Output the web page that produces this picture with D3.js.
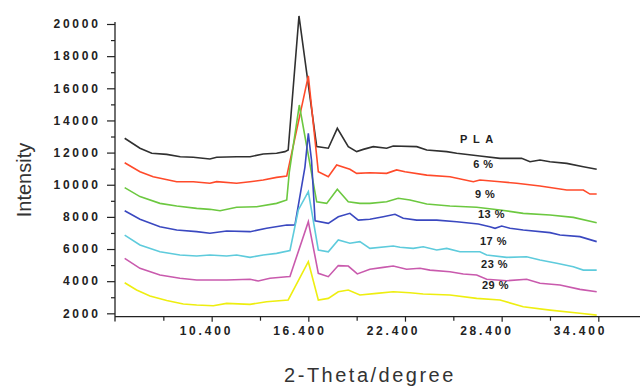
<!DOCTYPE html>
<html><head><meta charset="utf-8">
<script src="https://cdn.jsdelivr.net/npm/d3@7/dist/d3.min.js"></script>
<style>html,body{margin:0;padding:0;background:#fff;}svg{display:block;}</style>
</head><body>
<svg id="chart" width="640" height="386"></svg>
<script>
// ---- data (2-theta in degrees, intensity in counts) ----
const seriesNames = ["PLA", "6%", "9%", "13%", "17%", "23%", "29%"];
const seriesColors = ["#303030", "#ff4a2a", "#6cc840", "#3a48c0", "#5ecbdc", "#c95aad", "#eeee10"];

const pla = [[5.0,12890],[5.95,12270],[6.68,11960],[7.61,11890],[8.45,11740],[9.26,11710],[10.29,11600],[10.71,11710],[11.95,11740],[12.78,11740],[13.6,11910],[14.43,11960],[14.95,12060],[15.15,12160],[15.82,20500],[16.92,12370],[17.64,12270],[18.2,13510],[18.88,12370],[19.4,12060],[19.81,12200],[20.43,12370],[21.26,12270],[21.67,12410],[23.13,12370],[23.75,12160],[24.99,12060],[25.61,11960],[27.05,11790],[28.3,11640],[29.64,11640],[30.16,11430],[30.78,11540],[31.4,11430],[32.44,11330],[33.47,11120],[34.3,10960]];
const pct6 = [[5.0,11370],[5.95,10810],[6.77,10500],[8.23,10190],[9.26,10190],[10.29,10090],[10.71,10190],[11.95,10090],[12.78,10190],[13.6,10290],[14.43,10460],[15.06,10540],[16.4,16770],[17.02,10810],[17.64,10500],[18.16,11230],[18.98,10960],[19.4,10710],[20.22,10750],[21.26,10710],[21.88,10920],[22.4,10810],[23.75,10600],[25.19,10500],[26.64,10190],[27.05,10290],[28.3,10190],[29.33,10090],[30.78,9920],[32.44,9670],[33.47,9670],[33.88,9420],[34.3,9420]];
const pct9 = [[5.0,9820],[5.95,9260],[7.19,8840],[8.23,8680],[9.47,8530],[10.29,8470],[10.92,8380],[11.95,8600],[13.19,8630],[14.43,8840],[15.06,9050],[15.22,10790],[15.84,14960],[16.92,8940],[17.54,8840],[18.2,9720],[18.88,8940],[19.6,8840],[20.22,8840],[21.26,8940],[21.98,9160],[22.71,9050],[23.75,8800],[25.19,8680],[26.85,8600],[28.3,8430],[29.74,8220],[31.4,8120],[32.85,7970],[34.3,7640]];
const pct13 = [[5.0,8380],[5.95,7850],[7.19,7390],[8.23,7180],[9.47,7080],[10.29,6980],[11.33,7120],[12.78,7080],[13.81,7290],[15.06,7490],[15.57,7500],[16.19,11100],[16.4,13200],[16.6,11500],[16.82,7750],[17.64,7600],[18.26,8010],[18.98,8220],[19.5,7800],[20.22,7850],[21.05,8010],[21.78,8160],[22.29,7910],[23.13,7800],[24.37,7800],[25.61,7700],[26.95,7560],[27.67,7390],[27.99,7290],[28.4,7430],[28.92,7290],[29.74,7180],[31.4,7020],[32.02,6870],[33.26,6770],[34.3,6460]];
const pct17 = [[5.0,6870],[5.95,6250],[7.19,5830],[8.43,5630],[9.47,5570],[10.29,5630],[11.33,5570],[11.95,5630],[12.78,5480],[13.6,5630],[14.43,5730],[15.26,5910],[15.78,8430],[16.4,9570],[17.02,5940],[17.64,5830],[18.26,6560],[18.98,6360],[19.6,6460],[20.22,6040],[21.67,6190],[22.09,6110],[22.91,6040],[23.53,6140],[24.37,5940],[24.99,6040],[25.81,5830],[27.05,5830],[27.47,5630],[28.71,5480],[29.95,5520],[30.78,5320],[31.82,5110],[32.85,4900],[33.47,4690],[34.3,4690]];
const pct23 = [[5.0,5420],[5.95,4800],[7.19,4380],[8.43,4180],[9.47,4070],[11.33,4070],[12.78,4120],[13.29,4010],[14.02,4180],[15.06,4280],[15.26,4290],[16.4,7700],[17.02,4490],[17.64,4280],[18.26,4970],[18.88,4940],[19.44,4450],[20.22,4740],[21.05,4860],[21.67,4940],[22.5,4740],[23.33,4800],[23.95,4690],[25.19,4590],[26.02,4450],[26.85,4380],[27.47,4120],[28.71,4030],[29.95,4120],[30.78,3870],[32.02,3760],[33.26,3490],[34.3,3340]];
const pct29 = [[5.0,3900],[5.74,3450],[6.57,3080],[7.61,2800],[8.64,2580],[9.47,2520],[10.5,2470],[11.33,2620],[12.78,2560],[13.81,2720],[15.15,2830],[16.4,5210],[17.02,2830],[17.64,2930],[18.26,3340],[18.88,3450],[19.6,3140],[20.64,3240],[21.67,3340],[22.71,3280],[23.53,3200],[25.19,3140],[26.85,2930],[28.3,2830],[29.74,2410],[31.4,2200],[33.26,2000],[34.3,1890]];

const xMajorTicks = [10.4, 16.4, 22.4, 28.4, 34.4];
const xMinorTicks = [7.4, 13.4, 19.4, 25.4, 31.4];
const xTickLabels = ["10.400", "16.400", "22.400", "28.400", "34.400"];
const yMajorTicks = [2000, 4000, 6000, 8000, 10000, 12000, 14000, 16000, 18000, 20000];
const yMinorTicks = [3000, 5000, 7000, 9000, 11000, 13000, 15000, 17000, 19000];
const seriesLabels = ["P L A", "6 %", "9 %", "13 %", "17 %", "23 %", "29 %"];
// label anchor points (theta, intensity) where each curve label sits
const labelTheta = [25.81, 26.63, 26.74, 26.93, 27.05, 27.12, 27.18];
const labelIntensity = [12580, 11040, 9170, 7930, 6280, 4820, 3510];

// ---- drawing ----
const svg = d3.select("#chart");
const x = d3.scaleLinear().domain([4.4, 37.0]).range([115, 640.2]);
const y = d3.scaleLinear().domain([1790, 20000]).range([316.7, 24]);
// tick labels on the original are spaced slightly tighter than the ticks
const xLab = d3.scaleLinear().domain([10.4, 34.4]).range([205, 579]);

const allSeries = [pla, pct6, pct9, pct13, pct17, pct23, pct29];
const line = d3.line().x(d => x(d[0])).y(d => y(d[1]));

const g = svg.append("g");
allSeries.forEach((s, i) => {
  g.append("path").datum(s)
    .attr("d", line)
    .attr("fill", "none")
    .attr("stroke", seriesColors[i])
    .attr("stroke-width", 1.6)
    .attr("stroke-linejoin", "miter");
});

// axes
const axisColor = "#222";
const yAxis = svg.append("g").attr("transform", "translate(115,0)");
yAxis.call(d3.axisLeft(y).tickValues(yMajorTicks).tickSize(8).tickFormat(""))
  .call(a => a.select(".domain").remove());
yAxis.selectAll("line").attr("stroke", axisColor).attr("stroke-width", 1.2);
const yMinor = svg.append("g").attr("transform", "translate(115,0)");
yMinor.call(d3.axisLeft(y).tickValues(yMinorTicks).tickSize(4).tickFormat(""))
  .call(a => a.select(".domain").remove());
yMinor.selectAll("line").attr("stroke", axisColor).attr("stroke-width", 1.2);

svg.append("line").attr("x1", 115).attr("x2", 115).attr("y1", 22).attr("y2", 321.5)
  .attr("stroke", axisColor).attr("stroke-width", 1.3);
svg.append("line").attr("x1", 115).attr("x2", 640).attr("y1", 316.7).attr("y2", 316.7)
  .attr("stroke", axisColor).attr("stroke-width", 1.3);

const xAxis = svg.append("g").attr("transform", "translate(0,316.7)");
xAxis.call(d3.axisBottom(x).tickValues(xMajorTicks).tickSize(5).tickFormat(""))
  .call(a => a.select(".domain").remove());
xAxis.selectAll("line").attr("stroke", axisColor).attr("stroke-width", 1.2);
const xMinor = svg.append("g").attr("transform", "translate(0,316.7)");
xMinor.call(d3.axisBottom(x).tickValues(xMinorTicks).tickSize(4).tickFormat(""))
  .call(a => a.select(".domain").remove());
xMinor.selectAll("line").attr("stroke", axisColor).attr("stroke-width", 1.2);

const tickFont = "'Liberation Sans', Arial, sans-serif";
svg.append("g").selectAll("text").data(yMajorTicks).join("text")
  .attr("x", 98 + 2.8).attr("y", d => y(d) + 4.3)
  .attr("text-anchor", "end")
  .attr("font-family", tickFont).attr("font-weight", "bold").attr("font-size", 12)
  .attr("letter-spacing", 2.8).attr("fill", "#222")
  .text(d => d);

svg.append("g").selectAll("text").data(xMajorTicks).join("text")
  .attr("x", d => xLab(d) + 1.4).attr("y", 335)
  .attr("text-anchor", "middle")
  .attr("font-family", tickFont).attr("font-weight", "bold").attr("font-size", 12)
  .attr("letter-spacing", 2.8).attr("fill", "#222")
  .text((d, i) => xTickLabels[i]);

// curve labels
svg.append("g").selectAll("text").data(seriesLabels).join("text")
  .attr("x", (d, i) => x(labelTheta[i]))
  .attr("y", (d, i) => y(labelIntensity[i]))
  .attr("font-family", tickFont).attr("font-weight", "bold").attr("font-size", 11)
  .attr("letter-spacing", (d, i) => i === 0 ? 1.5 : 0.5)
  .attr("fill", "#222")
  .text(d => d);

// axis titles
svg.append("text")
  .attr("transform", "translate(31,180) rotate(-90)")
  .attr("text-anchor", "middle")
  .attr("font-family", tickFont).attr("font-size", 20).attr("fill", "#333")
  .text("Intensity");
svg.append("text")
  .attr("x", 370).attr("y", 382)
  .attr("text-anchor", "middle")
  .attr("font-family", tickFont).attr("font-size", 20).attr("letter-spacing", 2.5).attr("fill", "#333")
  .text("2-Theta/degree");
</script>
</body></html>
